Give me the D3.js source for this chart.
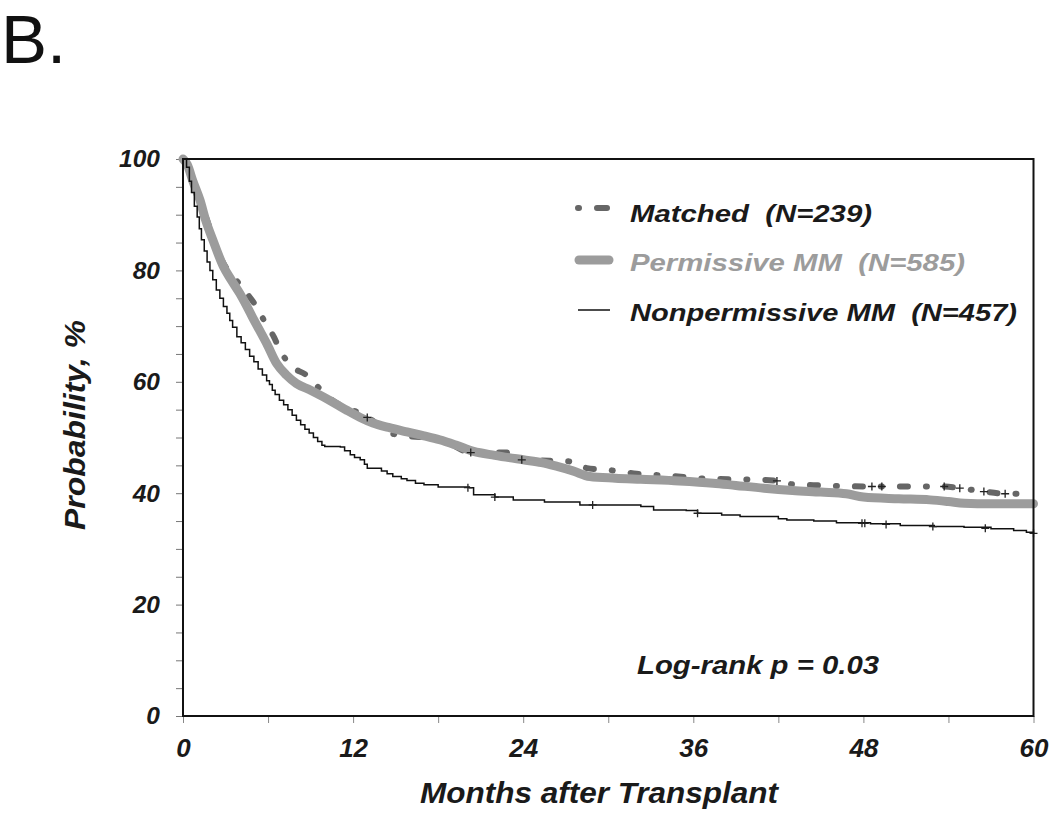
<!DOCTYPE html>
<html>
<head>
<meta charset="utf-8">
<script src="https://cdn.jsdelivr.net/npm/d3@7"></script>
<style>
  html, body { margin: 0; padding: 0; background: #fff; }
  svg { display: block; }
  text { font-family: "Liberation Sans", Arial, sans-serif; }
</style>
</head>
<body>
<svg id="chart" width="1050" height="815"></svg>
<script>
// ---- data (months after transplant, probability %) ----
const matched = [[0,100],[0.3,99],[0.7,96],[1.2,92.6],[1.7,89],[2.3,84.5],[2.85,81.3],[3.55,78.9],[4.5,75.9],[5.1,73.8],[5.7,71.1],[6.4,68.1],[6.85,65.7],[7.55,63.0],[8.7,61.2],[9.4,59.4],[10.1,57.6],[11.55,55.2],[12.6,54.3],[13.5,52.8],[14.6,50.8],[16.1,50.2],[17.5,50.0],[18.5,49.3],[20.3,47.3],[22.8,47.3],[23.9,46.0],[25,45.9],[27.3,45.7],[28.5,44.5],[29.9,44.2],[32,43.5],[34.4,43.1],[37,42.6],[41,42.4],[41.9,42.2],[43,41.6],[45,41.4],[48.6,41.2],[53.7,41.2],[54.8,40.9],[56.5,40.3],[58.0,39.9],[59.6,39.9]];
const permissive = [[0,100],[0.3,99],[0.7,96],[1.2,92.6],[1.6,89],[2.1,85.5],[2.85,80.7],[3.4,78.3],[4.0,75.9],[4.5,73.6],[5.0,71.1],[5.5,68.8],[5.9,66.9],[6.6,63.3],[7.3,61.2],[8.0,59.7],[9.0,58.5],[9.9,57.3],[10.8,56.0],[11.55,54.9],[12.5,53.6],[13.4,52.6],[14.5,51.8],[15.8,51.0],[17,50.3],[18.1,49.6],[19.3,48.6],[20.5,47.5],[22,46.8],[24,46.0],[25.3,45.5],[26.4,44.8],[27.5,44.0],[28.7,43.0],[30.5,42.7],[32.3,42.5],[35,42.2],[37.4,41.8],[39,41.4],[41,40.9],[43,40.5],[45,40.2],[46.8,39.9],[48.0,39.3],[50.5,39.0],[52.7,38.8],[54,38.5],[55.1,38.2],[57,38.1],[60,38.1]];
const nonpermissive = [[0,100],[0.25,98.5],[0.45,96],[0.6,94],[0.8,91.5],[1.0,89.6],[1.15,87.5],[1.3,85.5],[1.5,83.5],[1.7,81.5],[1.9,80],[2.1,78.3],[2.35,76.5],[2.6,75],[2.85,73.5],[3.1,72.3],[3.3,71],[3.5,69.8],[3.8,68.1],[4.1,67],[4.4,65.8],[4.7,64.6],[5.0,63.6],[5.3,62.3],[5.6,61.2],[5.9,60.2],[6.1,59.5],[6.3,58.5],[6.5,57.7],[6.8,56.7],[7.1,55.9],[7.4,55],[7.7,54],[8.0,53.1],[8.3,52.3],[8.6,51.5],[8.9,50.8],[9.2,50],[9.5,49.3],[9.8,48.6],[10.0,48.4],[11.1,48.3],[11.4,47.6],[11.8,46.9],[12.1,46.4],[12.5,46.0],[12.8,45.2],[13.0,44.5],[14.0,44.0],[14.4,43.5],[14.8,43.0],[15.4,42.6],[15.8,42.3],[16.4,41.8],[17,41.5],[18,41.1],[20.2,41],[20.5,39.7],[22,39.3],[23.3,38.8],[25.5,38.4],[28,37.9],[32.3,37.6],[33.2,37.0],[35.5,36.9],[36.3,36.4],[38,36.1],[39.3,35.8],[42,35.4],[42.6,35.2],[44.5,35.0],[46.1,34.7],[48.5,34.5],[50.6,34.2],[53,34.0],[55.1,33.9],[57,33.6],[58.6,33.3],[59.5,33.0],[60,32.8]];
const matchedCensor = [[13.0,53.6],[20.3,47.3],[23.9,46.0],[41.9,42.2],[48.6,41.2],[49.3,41.2],[53.7,41.2],[54.8,40.9],[56.5,40.3],[58.0,39.9]];
const nonpermCensor = [[20.1,41.0],[22.0,39.3],[28.9,37.9],[36.3,36.4],[47.9,34.6],[48.1,34.6],[49.6,34.4],[52.9,34.0],[56.6,33.7],[60,32.8]];
const xTicks = [0,12,24,36,48,60];
const yTicks = [0,20,40,60,80,100];
const legendLabels = ["Matched  (N=239)", "Permissive MM  (N=585)", "Nonpermissive MM  (N=457)"];

// ---- layout ----
const svg = d3.select("#chart");
const L = 183, R = 1033.5, T = 159, B = 716;
const x = d3.scaleLinear().domain([0,60]).range([L,R]);
const y = d3.scaleLinear().domain([0,100]).range([B,T]);

svg.append("text").attr("x",1).attr("y",63).attr("font-size",69).attr("fill","#111").text("B.");

// axes
const yAxis = d3.axisLeft(y).tickValues(d3.range(0,101,5)).tickSize(7).tickPadding(16)
  .tickFormat(d => yTicks.includes(d) ? d : "");
const gy = svg.append("g").attr("transform",`translate(${L},0)`).call(yAxis);
gy.select(".domain").remove();
gy.selectAll(".tick line").attr("stroke","#777").attr("stroke-width",1);
gy.selectAll(".tick text").attr("font-size",24.5).attr("font-weight","bold").attr("font-style","italic")
  .attr("fill","#1a1a1a").attr("font-family","'Liberation Sans', Arial, sans-serif");

const xAxis = d3.axisBottom(x).tickValues(d3.range(0,61,6)).tickSize(7).tickPadding(16)
  .tickFormat(d => xTicks.includes(d) ? d : "");
const gx = svg.append("g").attr("transform",`translate(0,${B})`).call(xAxis);
gx.select(".domain").remove();
gx.selectAll(".tick line").attr("stroke","#888").attr("stroke-width",1);
gx.selectAll(".tick text").attr("font-size",26).attr("font-weight","bold").attr("font-style","italic")
  .attr("fill","#1a1a1a").attr("font-family","'Liberation Sans', Arial, sans-serif");

// lines
const lineSmooth = d3.line().x(d => x(d[0])).y(d => y(d[1])).curve(d3.curveMonotoneX);
const lineStep = d3.line().x(d => x(d[0])).y(d => y(d[1])).curve(d3.curveStepAfter);

const plot = svg.append("g");
plot.append("path").datum(matched).attr("d",lineSmooth).attr("fill","none")
  .attr("stroke","#666").attr("stroke-width",6).attr("stroke-linecap","round")
  .attr("stroke-dasharray","1,18,8,18");
plot.append("path").datum(permissive).attr("d",lineSmooth).attr("fill","none")
  .attr("stroke","#9c9c9c").attr("stroke-width",9).attr("stroke-linejoin","round").attr("stroke-linecap","round");
plot.append("path").datum(nonpermissive).attr("d",lineStep).attr("fill","none")
  .attr("stroke","#111").attr("stroke-width",1.5);

const cross = "M-4,0H4M0,-4V4";
plot.selectAll(".cm").data(matchedCensor).enter().append("path")
  .attr("transform",d => `translate(${x(d[0])},${y(d[1])})`).attr("d",cross)
  .attr("stroke","#222").attr("stroke-width",1.3);
plot.selectAll(".cn").data(nonpermCensor).enter().append("path")
  .attr("transform",d => `translate(${x(d[0])},${y(d[1])})`).attr("d",cross)
  .attr("stroke","#222").attr("stroke-width",1.3);

// frame
svg.append("rect").attr("x",L).attr("y",T).attr("width",R-L).attr("height",B-T)
  .attr("fill","none").attr("stroke","#111").attr("stroke-width",2);

// legend
const lg = svg.append("g");
const legY = [208, 260, 310];
const legText = [222, 271, 321];
const legLen = [242, 335, 387];
const legColor = ["#1a1a1a", "#9c9c9c", "#1a1a1a"];
lg.append("line").attr("x1",578).attr("x2",612).attr("y1",legY[0]).attr("y2",legY[0])
  .attr("stroke","#666").attr("stroke-width",6).attr("stroke-linecap","round").attr("stroke-dasharray","1,18,10,18");
lg.append("line").attr("x1",579).attr("x2",609).attr("y1",legY[1]).attr("y2",legY[1])
  .attr("stroke","#9c9c9c").attr("stroke-width",9).attr("stroke-linecap","round");
lg.append("line").attr("x1",578).attr("x2",610).attr("y1",legY[2]).attr("y2",legY[2])
  .attr("stroke","#111").attr("stroke-width",1.5);
legendLabels.forEach((t,i) => {
  lg.append("text").attr("x",630).attr("y",legText[i]).attr("font-size",24.5)
    .attr("font-weight","bold").attr("font-style","italic").attr("fill",legColor[i])
    .attr("xml:space","preserve").style("white-space","pre")
    .attr("textLength",legLen[i]).attr("lengthAdjust","spacingAndGlyphs").text(t);
});

// annotation
svg.append("text").attr("x",637).attr("y",674).attr("font-size",25)
  .attr("font-weight","bold").attr("font-style","italic").attr("fill","#1a1a1a")
  .attr("textLength",242).attr("lengthAdjust","spacingAndGlyphs").text("Log-rank p = 0.03");

// axis titles
svg.append("text").attr("x",420).attr("y",803).attr("font-size",30)
  .attr("font-weight","bold").attr("font-style","italic").attr("fill","#1a1a1a")
  .attr("textLength",358).attr("lengthAdjust","spacingAndGlyphs").text("Months after Transplant");
svg.append("text").attr("transform","translate(85,530) rotate(-90)").attr("font-size",30)
  .attr("font-weight","bold").attr("font-style","italic").attr("fill","#1a1a1a")
  .attr("textLength",210).attr("lengthAdjust","spacingAndGlyphs").text("Probability, %");
</script>
</body>
</html>
